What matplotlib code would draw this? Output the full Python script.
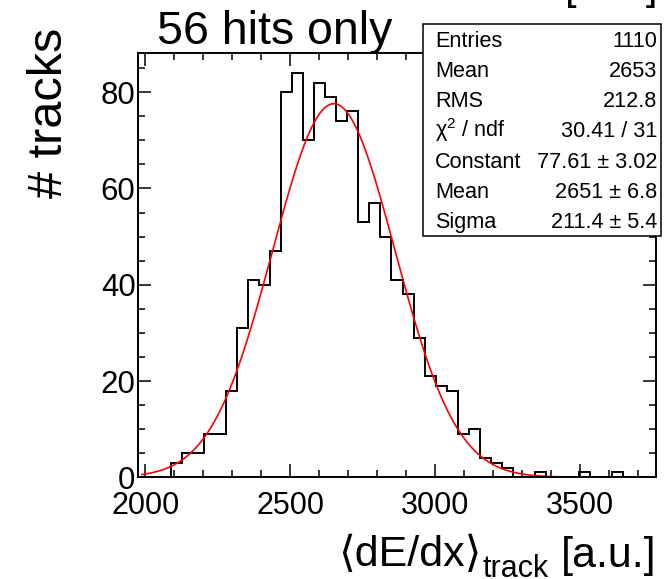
import numpy as np
import matplotlib
matplotlib.use('Agg')
import matplotlib.pyplot as plt
from matplotlib.patches import Rectangle
from matplotlib.ticker import MultipleLocator

plt.rcParams['font.family'] = ['Liberation Sans', 'DejaVu Sans']
plt.rcParams['mathtext.fontset'] = 'custom'
plt.rcParams['mathtext.rm'] = 'Liberation Sans'
plt.rcParams['mathtext.it'] = 'Liberation Sans:italic'

W_PX, H_PX = 671, 579

# histogram definition (bin geometry) and contents
BIN_START, BIN_WIDTH = 1976, 38
counts = [0, 0, 0, 3, 5, 5, 9, 9, 18, 31, 41, 40, 47, 80, 84, 70, 82, 79,
          74, 76, 53, 57, 50, 41, 38, 29, 21, 19, 18, 9, 10, 4, 3, 2, 0, 0,
          1, 0, 0, 0, 1, 0, 0, 1, 0, 0, 0]

# gaussian fit parameters
fit_const, fit_mean, fit_sigma = 77.61, 2651.0, 211.4
fit_lo, fit_hi = 1988, 3541

stat_labels = ['Entries', 'Mean', 'RMS', '\u03c7$^{2}$ / ndf', 'Constant', 'Mean', 'Sigma']
stat_values = ['1110', '2653', '212.8', '30.41 / 31', '77.61 \u00b1 3.02',
               '2651 \u00b1 6.8', '211.4 \u00b1 5.4']


def fx(px):
    return px / W_PX


def fy(py):
    return 1 - py / H_PX


fig = plt.figure(figsize=(W_PX / 100, H_PX / 100), dpi=100)
ax_l, ax_r, ax_t, ax_b = 138.3, 655.7, 52.7, 477.3
ax = fig.add_axes([fx(ax_l), fy(ax_b), fx(ax_r) - fx(ax_l), fy(ax_t) - fy(ax_b)])

edges = BIN_START + BIN_WIDTH * np.arange(len(counts) + 1)
ax.stairs(counts, edges, color='black', lw=1.4)

xf = np.linspace(fit_lo, fit_hi, 500)
yf = fit_const * np.exp(-0.5 * ((xf - fit_mean) / fit_sigma) ** 2)
ax.plot(xf, yf, color='red', lw=1.2)

ax.set_xlim(edges[0], edges[-1])
ax.set_ylim(0, 88.2)
ax.xaxis.set_major_locator(MultipleLocator(500))
ax.xaxis.set_minor_locator(MultipleLocator(100))
ax.yaxis.set_major_locator(MultipleLocator(20))
ax.yaxis.set_minor_locator(MultipleLocator(5))
ax.tick_params(which='both', direction='in', top=True, right=True, width=1.1)
ax.tick_params(which='major', length=9.5)
ax.tick_params(which='minor', length=5)
ax.tick_params(axis='x', labelsize=22, pad=10)
ax.tick_params(axis='y', labelsize=22.5, pad=2)
for s in ax.spines.values():
    s.set_linewidth(1.4)

# x axis title, built from three pieces (right to left)
renderer = fig.canvas.get_renderer()
t_unit = fig.text(fx(656.5), fy(566.5), '[a.u.]', ha='right', va='baseline', fontsize=31)
x_right = t_unit.get_window_extent(renderer).x0 - 12
t_sub = fig.text(x_right / W_PX, fy(577), 'track', ha='right', va='baseline', fontsize=22)
x_right = t_sub.get_window_extent(renderer).x0 - 1
fig.text(x_right / W_PX, fy(566.5), '\u27e8dE/dx\u27e9', ha='right', va='baseline',
         fontsize=31)

fig.text(fx(49), fy(28), '# tracks', rotation=90, ha='center', va='top', fontsize=35)

# title and clipped text at the top edge
fig.text(fx(157), fy(43.5), '56 hits only', ha='left', va='baseline', fontsize=33.5)
fig.text(fx(611), fy(-1.5), '[a.u.]', ha='center', va='baseline', fontsize=30)

# stats box
bx0, bx1, by0, by1 = 422.7, 660.7, 24, 236
box = Rectangle((fx(bx0), fy(by1)), fx(bx1) - fx(bx0), fy(by0) - fy(by1),
                transform=fig.transFigure, facecolor='white', edgecolor='black',
                lw=1.1, zorder=10)
fig.add_artist(box)
for i, (lab, val) in enumerate(zip(stat_labels, stat_values)):
    yb = fy(46.6 + 30.25 * i)
    fig.text(fx(435), yb, lab, ha='left', va='baseline', fontsize=15.6, zorder=11)
    fig.text(fx(657.5), yb, val, ha='right', va='baseline', fontsize=15.6, zorder=11)

fig.savefig('out.png', dpi=100)
